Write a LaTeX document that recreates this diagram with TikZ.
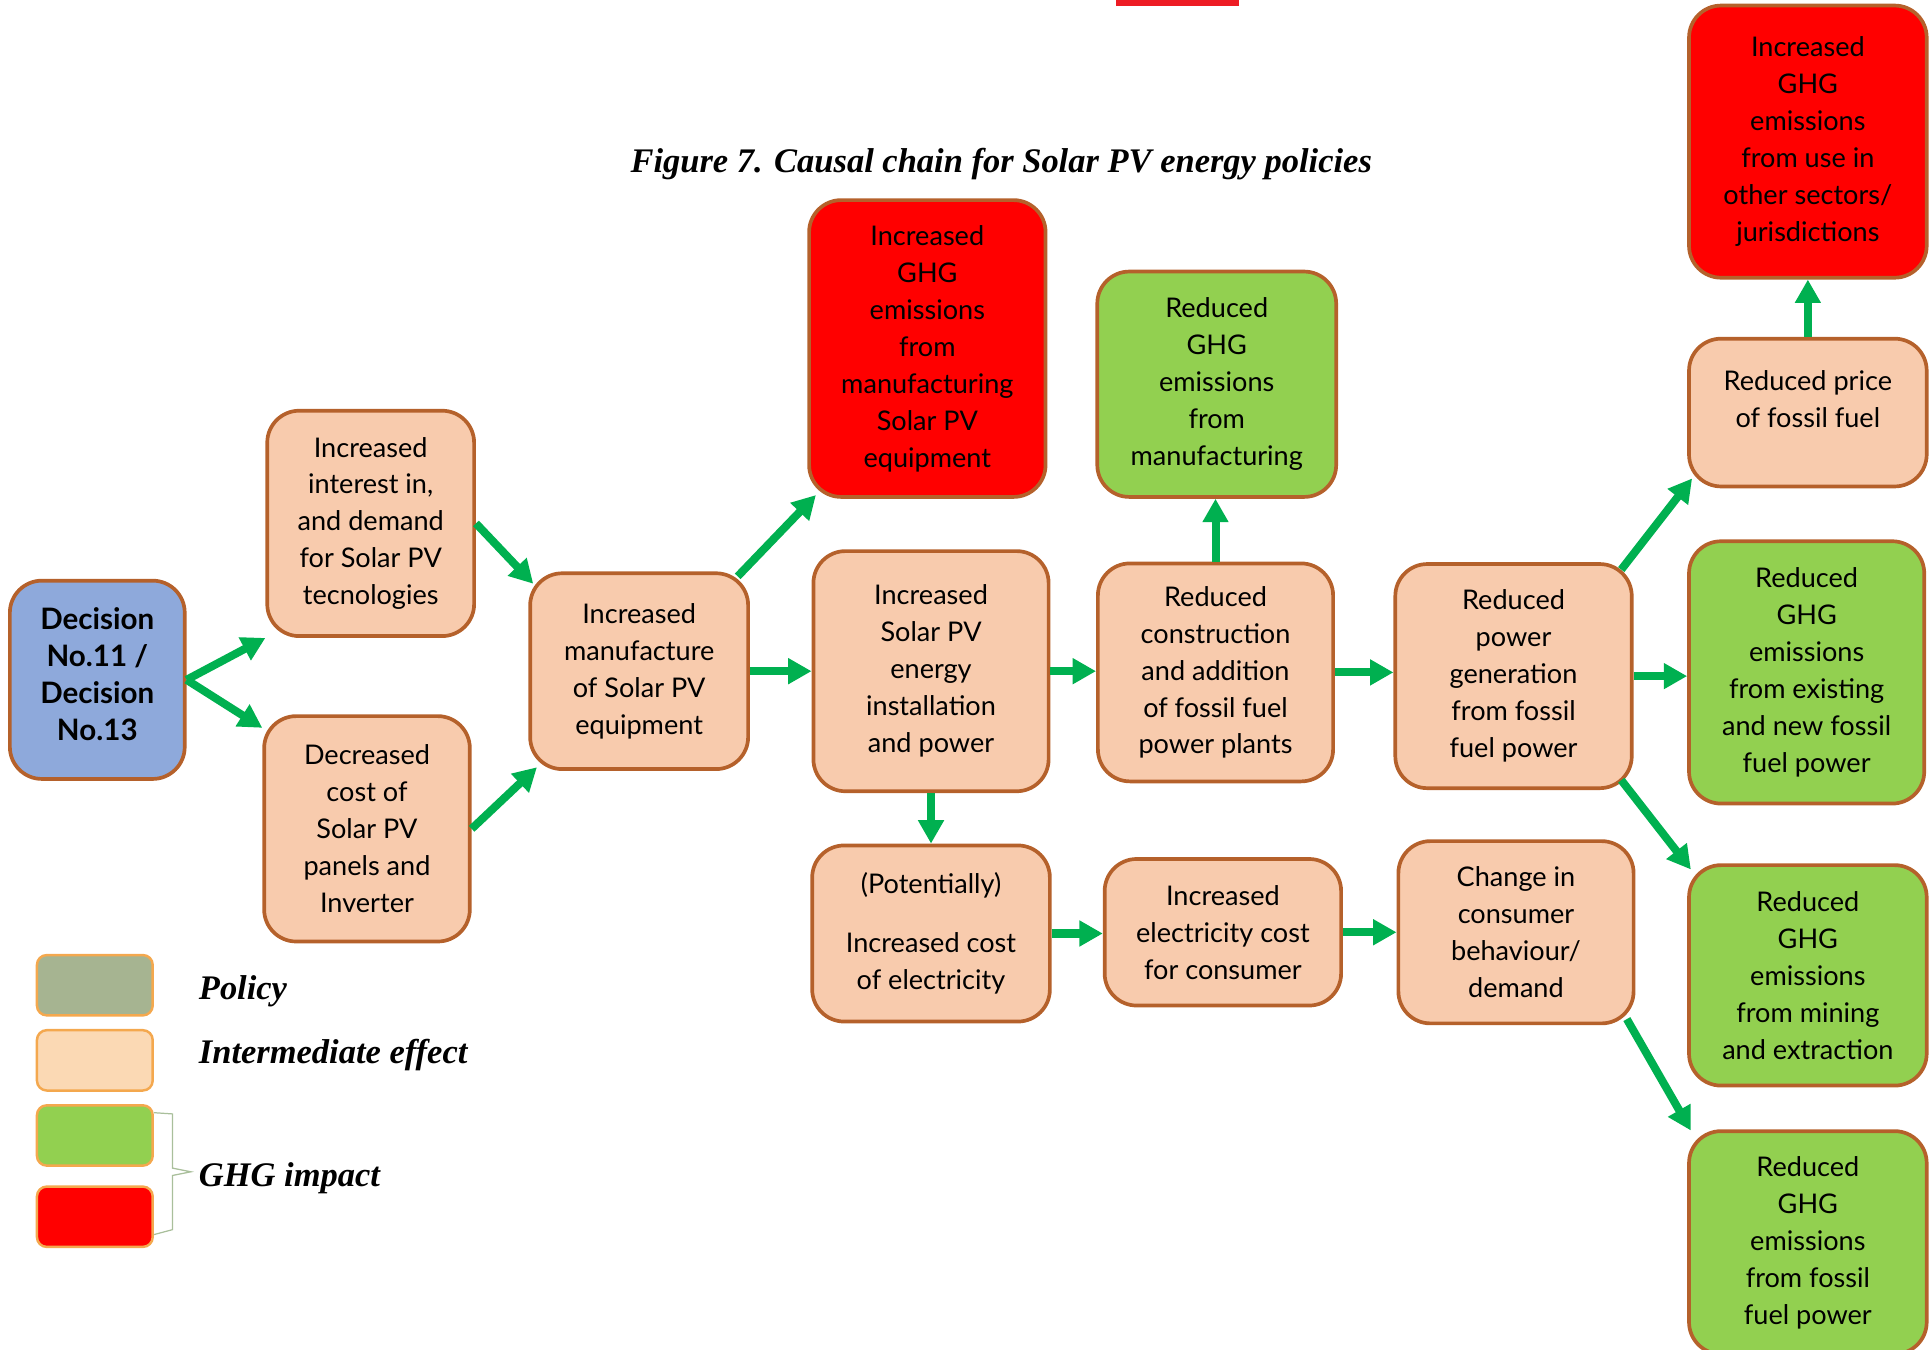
\documentclass[tikz,border=0pt]{standalone}
\usepackage{fontspec}
\setmainfont{Liberation Serif}
\newfontfamily\boxfont{Lato}
\usepackage{tikz}
\usetikzlibrary{arrows.meta}
\usetikzlibrary{positioning}
\definecolor{peach}{HTML}{F8CBAD}
\definecolor{boxline}{HTML}{B5612B}
\definecolor{policyblue}{HTML}{8EA9DB}
\definecolor{ghggreen}{HTML}{92D050}
\definecolor{ghgred}{HTML}{FF0000}
\definecolor{arrowgreen}{HTML}{00B050}
\definecolor{keyline}{HTML}{F4A84E}
\definecolor{keypeach}{HTML}{FBD9B4}
\definecolor{keygray}{HTML}{A6B491}
\definecolor{bracegray}{HTML}{A9BF9B}
\definecolor{topred}{HTML}{ED1C24}
\tikzset{
    effect/.style={
        draw=boxline,
        fill=peach,
        rounded corners=26pt,
        line width=3pt,
        align=center,
        inner sep=0pt,
        font=\boxfont\fontsize{22}{30}\selectfont
    },
    policy/.style={effect, fill=policyblue, font=\boxfont\bfseries\fontsize{24}{30}\selectfont},
    increase/.style={effect, fill=ghgred},
    decrease/.style={effect, fill=ghggreen},
    link/.style={
        draw=arrowgreen,
        line width=6.5pt,
        -{Triangle[length=19pt, width=20pt]}
    },
    keybox/.style={
        draw=keyline,
        rounded corners=8pt,
        line width=2pt,
        minimum width=94pt,
        minimum height=49pt
    },
    keytext/.style={anchor=west, font=\bfseries\itshape\fontsize{28}{30}\selectfont}
}

\begin{document}
\begin{tikzpicture}[x=1pt, y=-1pt]
  \useasboundingbox (0,0) rectangle (1568,1096);
  \fill[topred] (906,0) rectangle (1006,5);
  \node[font=\bfseries\itshape\fontsize{28}{30}\selectfont] (caption) at (813,133) {Figure 7. Causal chain for Solar PV energy policies};

  % Policy
  \node[policy, minimum width=142pt, minimum height=161pt] (decision) at (79,552) {Decision\\No.11 /\\Decision\\No.13\\[-20pt]\mbox{}};

  % Manufacturing side
  \node[effect, minimum width=168pt, minimum height=183pt] (interest) at (301,425) {Increased\\interest in,\\and demand\\for Solar PV\\tecnologies};
  \node[effect, minimum width=167pt, minimum height=183pt] (costdrop) at (298,673) {Decreased\\cost of\\Solar PV\\panels and\\Inverter};
  \node[effect, minimum width=177pt, minimum height=159pt] (manufacture) at (519,545) {Increased\\manufacture\\of Solar PV\\equipment};
  \node[increase, minimum width=192pt, minimum height=241pt] (manuup) at (753,283) {Increased\\GHG\\emissions\\from\\manufacturing\\Solar PV\\equipment};
  \node[effect, minimum width=191pt, minimum height=195pt] (install) at (756,545) {Increased\\Solar PV\\energy\\installation\\and power};

  % Fossil fuel side
  \node[decrease, minimum width=194pt, minimum height=183pt] (manudown) at (988,312) {Reduced\\GHG\\emissions\\from\\manufacturing};
  \node[effect, minimum width=191pt, minimum height=177pt] (construction) at (987,546) {Reduced\\construction\\and addition\\of fossil fuel\\power plants};
  \node[effect, minimum width=192pt, minimum height=182pt] (generation) at (1229,549) {Reduced\\power\\generation\\from fossil\\fuel power};
  \node[effect, minimum width=193pt, minimum height=120pt] (price) at (1468,335) {Reduced price\\of fossil fuel\\[-8pt]\mbox{}};
  \node[increase, minimum width=193pt, minimum height=221pt] (otheruse) at (1468,115) {Increased\\GHG\\emissions\\from use in\\other sectors/\\jurisdictions};
  \node[decrease, minimum width=191pt, minimum height=213pt] (existing) at (1467,546) {Reduced\\GHG\\emissions\\from existing\\and new fossil\\fuel power};
  \node[decrease, minimum width=193pt, minimum height=179pt] (mining) at (1468,792) {Reduced\\GHG\\emissions\\from mining\\and extraction};
  \node[decrease, minimum width=193pt, minimum height=181pt] (fossil) at (1468,1009) {Reduced\\GHG\\emissions\\from fossil\\fuel power};

  % Consumer side
  \node[effect, minimum width=193pt, minimum height=143pt] (elecprice) at (756,758) {(Potentially)\\[18pt]Increased cost\\of electricity};
  \node[effect, minimum width=192pt, minimum height=119pt] (billrise) at (993,757) {Increased\\electricity cost\\for consumer};
  \node[effect, minimum width=191pt, minimum height=148pt] (behaviour) at (1231,757) {Change in\\consumer\\behaviour/\\demand};

  % Causal links
  \draw[link] (decision.east) -- (interest.south west);
  \draw[link] (decision.east) -- ([yshift=-11pt]costdrop.north west);
  \draw[link] (interest.east) -- ([xshift=4pt,yshift=-10pt]manufacture.north west);
  \draw[link] (costdrop.east) -- ([xshift=7pt,yshift=3pt]manufacture.south west);
  \draw[link] ([xshift=-10pt,yshift=-4pt]manufacture.north east) -- ([xshift=7pt,yshift=3pt]manuup.south west);
  \draw[link] (manufacture.east) -- (manufacture.east -| install.west);
  \draw[link] (install.east) -- (install.east -| construction.west);
  \draw[link] (install.south) -- (elecprice.north);
  \draw[link] (construction.north) -- (construction.north |- manudown.south);
  \draw[link] (construction.east) -- (construction.east -| generation.west);
  \draw[link] ([xshift=-10pt,yshift=-6pt]generation.north east) -- ([xshift=4pt,yshift=8pt]price.south west);
  \draw[link] (generation.east) -- (generation.east -| existing.west);
  \draw[link] ([xshift=-10pt,yshift=8pt]generation.south east) -- ([xshift=3pt,yshift=-5pt]mining.north west);
  \draw[link] (price.north) -- (price.north |- otheruse.south);
  \draw[link] (elecprice.east) -- (elecprice.east -| billrise.west);
  \draw[link] (billrise.east) -- (billrise.east -| behaviour.west);
  \draw[link] ([xshift=-7pt,yshift=5pt]behaviour.south east) -- ([xshift=3pt,yshift=-1pt]fossil.north west);

  % Key
  \node[keybox, fill=keygray] (keypolicy) at (77,800) {};
  \node[keybox, fill=keypeach] (keyeffect) at (77,861) {};
  \node[keybox, fill=ghggreen] (keygreen) at (77,922) {};
  \node[keybox, fill=ghgred] (keyred) at (77,988) {};
  \node[keytext] (policytext) at (158,805) {Policy};
  \node[keytext] (effecttext) at (158,857) {Intermediate effect};
  \node[keytext] (ghgtext) at (158,957) {GHG impact};
  \draw[bracegray, line width=1pt] ([yshift=-7pt]keygreen.north east) -- ++(15,1) -- ++(0,44) -- ++(15,3) -- ++(-15,3) -- ++(0,44) -- ([yshift=11pt]keyred.south east);
\end{tikzpicture}
\end{document}
